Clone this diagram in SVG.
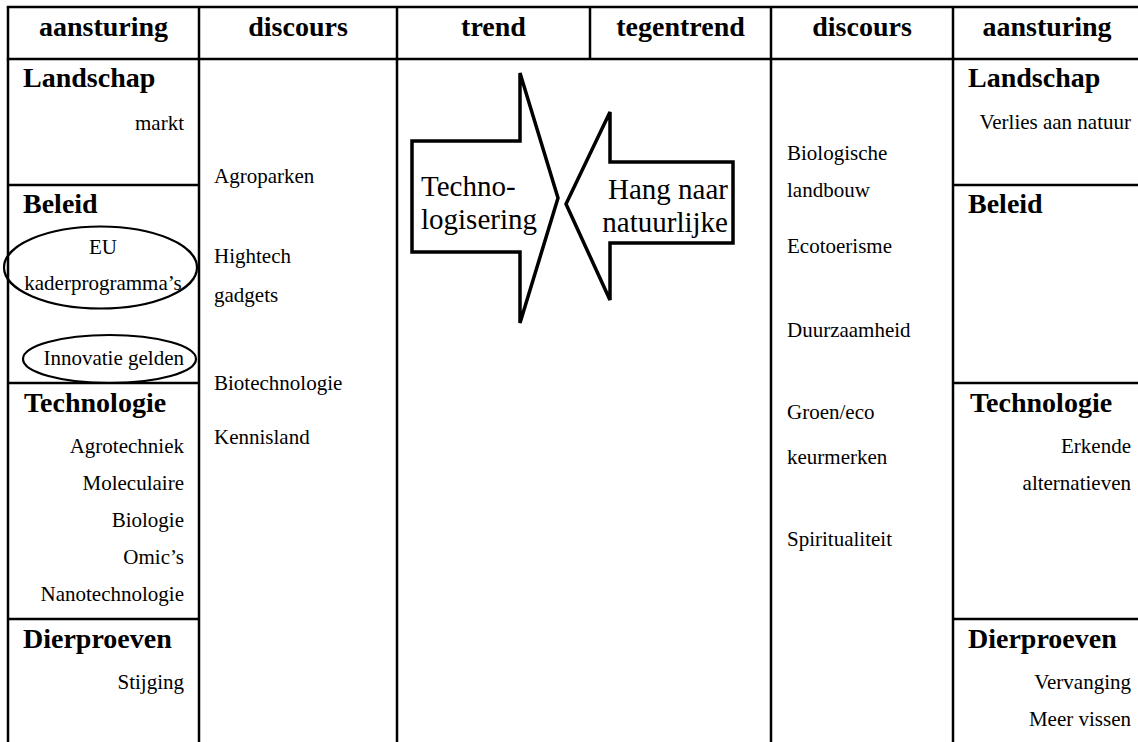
<svg xmlns="http://www.w3.org/2000/svg" width="1138" height="742" viewBox="0 0 1138 742">
  <style>
    .grid line { stroke: #000; stroke-width: 2.5; }
    .hd { font-family: "Liberation Serif", "Times New Roman", serif; font-weight: bold; font-size: 28px; fill: #000; }
    .sub { font-family: "Liberation Serif", "Times New Roman", serif; font-weight: bold; font-size: 28px; fill: #000; }
    .txt { font-family: "Liberation Serif", "Times New Roman", serif; font-size: 21px; fill: #000; }
    .big { font-family: "Liberation Serif", "Times New Roman", serif; font-size: 29px; fill: #000; }
    .ring { fill: none; stroke: #000; stroke-width: 2.2; }
    .arrow { fill: #fff; stroke: #000; stroke-width: 3.5; stroke-linejoin: miter; }
    .r { text-anchor: end; }
    .c { text-anchor: middle; }
  </style>
  <rect width="1138" height="742" fill="#fff"/>

  <!-- table rules -->
  <g id="grid" class="grid">
    <line x1="6.8" y1="7" x2="1138" y2="7"/>
    <line x1="6.8" y1="59" x2="1138" y2="59"/>
    <line x1="8" y1="7" x2="8" y2="742"/>
    <line x1="199" y1="7" x2="199" y2="742"/>
    <line x1="397" y1="7" x2="397" y2="742"/>
    <line x1="590" y1="7" x2="590" y2="59"/>
    <line x1="771" y1="7" x2="771" y2="742"/>
    <line x1="953" y1="7" x2="953" y2="742"/>
    <line x1="8" y1="185" x2="199" y2="185"/>
    <line x1="8" y1="383" x2="199" y2="383"/>
    <line x1="8" y1="619" x2="199" y2="619"/>
    <line x1="953" y1="185" x2="1138" y2="185"/>
    <line x1="953" y1="383" x2="1138" y2="383"/>
    <line x1="953" y1="619" x2="1138" y2="619"/>
  </g>

  <!-- header row -->
  <g id="header">
    <text class="hd c" x="103.5" y="36">aansturing</text>
    <text class="hd c" x="298" y="36">discours</text>
    <text class="hd c" x="493.5" y="36">trend</text>
    <text class="hd c" x="680.5" y="36">tegentrend</text>
    <text class="hd c" x="862" y="36">discours</text>
    <text class="hd c" x="1047" y="36">aansturing</text>
  </g>

  <!-- left steering column -->
  <g id="aansturing-links">
    <text class="sub" x="23" y="87">Landschap</text>
    <text class="txt r" x="184" y="130">markt</text>
    <text class="sub" x="23" y="213">Beleid</text>
    <ellipse class="ring" cx="100.5" cy="267.5" rx="96.5" ry="41"/>
    <text class="txt c" x="103" y="254">EU</text>
    <text class="txt c" x="103" y="290">kaderprogramma’s</text>
    <ellipse class="ring" cx="109.5" cy="359" rx="86.5" ry="24"/>
    <text class="txt r" x="184" y="365">Innovatie gelden</text>
    <text class="sub" x="24" y="412">Technologie</text>
    <text class="txt r" x="184" y="453">Agrotechniek</text>
    <text class="txt r" x="184" y="490">Moleculaire</text>
    <text class="txt r" x="184" y="527">Biologie</text>
    <text class="txt r" x="184" y="564">Omic’s</text>
    <text class="txt r" x="184" y="601">Nanotechnologie</text>
    <text class="sub" x="23" y="648">Dierproeven</text>
    <text class="txt r" x="184" y="689">Stijging</text>
  </g>

  <!-- left discourse column -->
  <g id="discours-links">
    <text class="txt" x="214" y="183">Agroparken</text>
    <text class="txt" x="214" y="263">Hightech</text>
    <text class="txt" x="214" y="302">gadgets</text>
    <text class="txt" x="214" y="390">Biotechnologie</text>
    <text class="txt" x="214" y="444">Kennisland</text>
  </g>

  <!-- trend / counter-trend arrows -->
  <g id="trend">
    <polygon class="arrow" points="412,141 520,141 520,73 558,198 520,323 520,252 412,252"/>
    <text class="big" x="421" y="196">Techno-</text>
    <text class="big" x="421" y="229">logisering</text>
  </g>
  <g id="tegentrend">
    <polygon class="arrow" points="733,162 610,162 610,112 566,204 610,300 610,243 733,243"/>
    <text class="big r" x="728" y="199">Hang naar</text>
    <text class="big r" x="728" y="232">natuurlijke</text>
  </g>

  <!-- right discourse column -->
  <g id="discours-rechts">
    <text class="txt" x="787" y="160">Biologische</text>
    <text class="txt" x="787" y="197">landbouw</text>
    <text class="txt" x="787" y="253">Ecotoerisme</text>
    <text class="txt" x="787" y="337">Duurzaamheid</text>
    <text class="txt" x="787" y="419">Groen/eco</text>
    <text class="txt" x="787" y="464">keurmerken</text>
    <text class="txt" x="787" y="546">Spiritualiteit</text>
  </g>

  <!-- right steering column -->
  <g id="aansturing-rechts">
    <text class="sub" x="968" y="87">Landschap</text>
    <text class="txt r" x="1131" y="129">Verlies aan natuur</text>
    <text class="sub" x="968" y="213">Beleid</text>
    <text class="sub" x="970" y="412">Technologie</text>
    <text class="txt r" x="1131" y="453">Erkende</text>
    <text class="txt r" x="1131" y="490">alternatieven</text>
    <text class="sub" x="968" y="648">Dierproeven</text>
    <text class="txt r" x="1131" y="689">Vervanging</text>
    <text class="txt r" x="1131" y="726">Meer vissen</text>
  </g>
</svg>
